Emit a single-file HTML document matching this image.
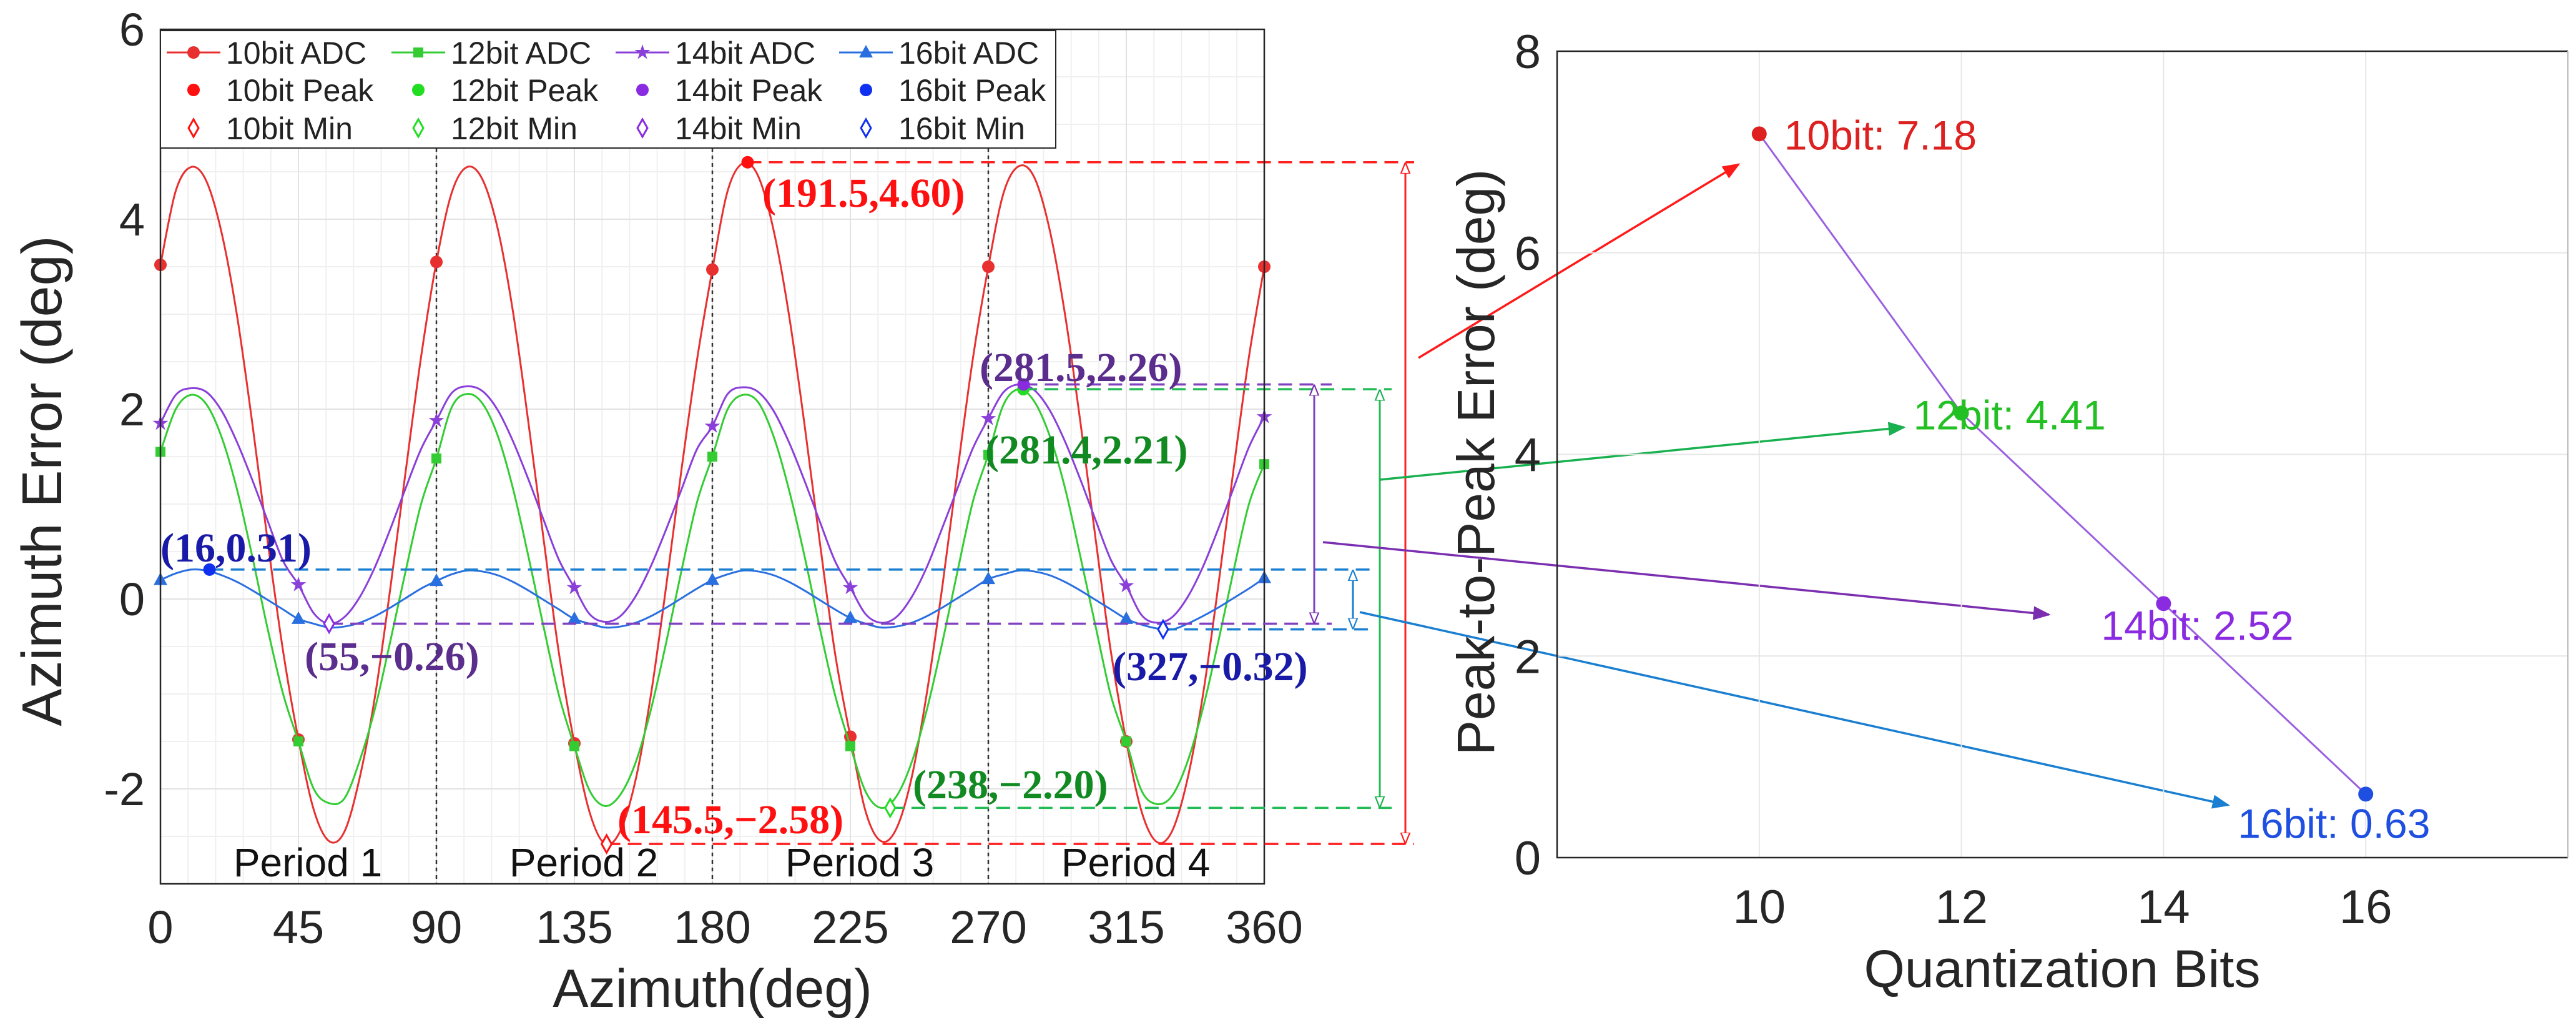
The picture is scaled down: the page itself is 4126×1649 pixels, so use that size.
<!DOCTYPE html>
<html><head><meta charset="utf-8"><style>
html,body{margin:0;padding:0;background:#fff;}
svg{display:block;font-family:"Liberation Sans",sans-serif;}
</style></head><body>
<svg id="c" width="4126" height="1649" viewBox="0 0 4126 1649" xmlns="http://www.w3.org/2000/svg">
<defs>
<marker id="ar-red" viewBox="0 0 10 10" refX="9" refY="5" markerWidth="8" markerHeight="8" orient="auto"><path d="M0,1 L10,5 L0,9 z" fill="#ff1a1a"/></marker>
<marker id="ar-green" viewBox="0 0 10 10" refX="9" refY="5" markerWidth="8" markerHeight="8" orient="auto"><path d="M0,1 L10,5 L0,9 z" fill="#19b050"/></marker>
<marker id="ar-purple" viewBox="0 0 10 10" refX="9" refY="5" markerWidth="8" markerHeight="8" orient="auto"><path d="M0,1 L10,5 L0,9 z" fill="#7b2fb0"/></marker>
<marker id="ar-blue" viewBox="0 0 10 10" refX="9" refY="5" markerWidth="8" markerHeight="8" orient="auto"><path d="M0,1 L10,5 L0,9 z" fill="#1a7fd0"/></marker>
<marker id="oh-red" viewBox="0 0 10 10" refX="9" refY="5" markerWidth="6" markerHeight="6" orient="auto-start-reverse"><path d="M0,1 L10,5 L0,9 z" fill="#fff" stroke="#ff1a1a" stroke-width="1.2"/></marker>
<marker id="oh-green" viewBox="0 0 10 10" refX="9" refY="5" markerWidth="6" markerHeight="6" orient="auto-start-reverse"><path d="M0,1 L10,5 L0,9 z" fill="#fff" stroke="#19b050" stroke-width="1.2"/></marker>
<marker id="oh-purple" viewBox="0 0 10 10" refX="9" refY="5" markerWidth="6" markerHeight="6" orient="auto-start-reverse"><path d="M0,1 L10,5 L0,9 z" fill="#fff" stroke="#7b2fb0" stroke-width="1.2"/></marker>
<marker id="oh-blue" viewBox="0 0 10 10" refX="9" refY="5" markerWidth="6" markerHeight="6" orient="auto-start-reverse"><path d="M0,1 L10,5 L0,9 z" fill="#fff" stroke="#1a7fd0" stroke-width="1.2"/></marker>
</defs>
</svg>
<script>
// ---- left chart data ----
const azimuthStep = 5;
const s10 = [3.52,4.30,4.55,4.40,3.85,2.98,1.84,0.60,-0.55,-1.48,-2.22,-2.55,-2.45,-1.88,-1.02,0.12,1.35,2.55,
 3.55,4.28,4.55,4.42,3.90,3.02,1.86,0.62,-0.58,-1.52,-2.25,-2.58,-2.44,-1.90,-1.00,0.15,1.38,2.52,
 3.47,4.30,4.59,4.45,3.88,2.99,1.85,0.61,-0.57,-1.45,-2.24,-2.55,-2.42,-1.88,-0.98,0.13,1.36,2.54,
 3.50,4.28,4.56,4.44,3.89,3.00,1.87,0.63,-0.56,-1.50,-2.24,-2.56,-2.44,-1.89,-1.01,0.14,1.37,2.55,3.50];
const s12 = [1.55,2.00,2.15,2.05,1.70,1.15,0.44,-0.32,-1.00,-1.50,-2.00,-2.15,-2.10,-1.70,-1.15,-0.44,0.30,1.00,
 1.48,2.02,2.16,2.06,1.72,1.16,0.45,-0.30,-1.02,-1.55,-2.02,-2.18,-2.06,-1.72,-1.16,-0.45,0.31,1.02,
 1.50,2.00,2.15,2.07,1.71,1.15,0.46,-0.30,-1.01,-1.55,-2.03,-2.20,-2.08,-1.72,-1.16,-0.46,0.30,1.03,
 1.52,2.05,2.21,2.08,1.72,1.17,0.45,-0.29,-1.02,-1.50,-2.02,-2.16,-2.07,-1.71,-1.15,-0.45,0.30,1.00,1.42];
const s14 = [1.85,2.15,2.22,2.18,1.98,1.65,1.25,0.82,0.40,0.15,-0.15,-0.26,-0.19,0.02,0.34,0.74,1.17,1.58,
 1.88,2.17,2.24,2.19,1.99,1.66,1.26,0.83,0.41,0.12,-0.16,-0.24,-0.18,0.03,0.35,0.74,1.16,1.58,
 1.82,2.16,2.23,2.18,1.98,1.65,1.25,0.82,0.40,0.12,-0.16,-0.25,-0.19,0.02,0.34,0.75,1.17,1.59,
 1.90,2.18,2.26,2.20,1.99,1.66,1.26,0.83,0.41,0.14,-0.17,-0.25,-0.19,0.02,0.34,0.74,1.17,1.60,1.92];
const s16 = [0.20,0.27,0.31,0.30,0.25,0.18,0.09,-0.01,-0.11,-0.21,-0.26,-0.30,-0.29,-0.25,-0.18,-0.09,0.01,0.11,
 0.19,0.26,0.30,0.29,0.25,0.18,0.09,-0.01,-0.11,-0.21,-0.26,-0.30,-0.29,-0.25,-0.18,-0.09,0.01,0.11,
 0.20,0.26,0.30,0.29,0.25,0.18,0.09,-0.01,-0.11,-0.20,-0.26,-0.30,-0.29,-0.25,-0.18,-0.09,0.01,0.11,
 0.21,0.26,0.30,0.29,0.25,0.18,0.09,-0.01,-0.11,-0.21,-0.27,-0.31,-0.32,-0.26,-0.18,-0.09,0.01,0.11,0.22];
const peakX = [191.5, 281.4, 281.5, 16];
const peakY = [4.60, 2.21, 2.26, 0.31];
const minX = [145.5, 238, 55, 327];
const minY = [-2.58, -2.20, -0.26, -0.32];
const xTicks = [0,45,90,135,180,225,270,315,360];
const yTicks = [-2,0,2,4,6];
const periodLabels = ["Period 1","Period 2","Period 3","Period 4"];
// ---- right chart data ----
const bits = [10,12,14,16];
const p2p = [7.18,4.41,2.52,0.63];
const bitTicks = [10,12,14,16];
const p2pTicks = [0,2,4,6,8];

const NS="http://www.w3.org/2000/svg";
const svg=document.getElementById('c');
function mk(tag,attrs,parent){const e=document.createElementNS(NS,tag);for(const k in attrs)e.setAttribute(k,attrs[k]);(parent||svg).appendChild(e);return e;}

const L={x0:257,x1:2025,y0:1415,y1:47,vmin:-3,vmax:6,amin:0,amax:360};
const xs=a=>L.x0+(a-L.amin)/(L.amax-L.amin)*(L.x1-L.x0);
const ys=v=>L.y0-(v-L.vmin)/(L.vmax-L.vmin)*(L.y0-L.y1);
const R={x0:2494,x1:4113,y0:1373,y1:82,bmin:8,bmax:18,vmin:0,vmax:8};
const rx=b=>R.x0+(b-R.bmin)/(R.bmax-R.bmin)*(R.x1-R.x0);
const ry=v=>R.y0-(v-R.vmin)/(R.vmax-R.vmin)*(R.y0-R.y1);

const gL=mk('g',{});


for(let a=0;a<=360;a+=9){const l=mk('line',{x1:xs(a),x2:xs(a),y1:L.y1,y2:L.y0,stroke:'#f0f0f0','stroke-width':2},gL);

}
for(let v=-3;v<=6;v+=0.5){const l=mk('line',{x1:L.x0,x2:L.x1,y1:ys(v),y2:ys(v),stroke:'#f0f0f0','stroke-width':2},gL);

}
xTicks.forEach(a=>{const l=mk('line',{x1:xs(a),x2:xs(a),y1:L.y1,y2:L.y0,stroke:'#e2e2e2','stroke-width':2},gL);


const t=mk('text',{x:xs(a),y:1510,'font-size':74,'text-anchor':'middle',fill:'#262626'},gL);t.textContent=a;

});
yTicks.forEach(v=>{const l=mk('line',{x1:L.x0,x2:L.x1,y1:ys(v),y2:ys(v),stroke:'#e2e2e2','stroke-width':2},gL);


const t=mk('text',{x:232,y:ys(v)+26,'font-size':74,'text-anchor':'end',fill:'#262626'},gL);t.textContent=v;

});
[90,180,270].forEach(a=>{const l=mk('line',{x1:xs(a),x2:xs(a),y1:ys(4.75),y2:L.y0,stroke:'#333','stroke-width':2.5,'stroke-dasharray':'6,6'},gL);

});
periodLabels.forEach((p,i)=>{const t=mk('text',{x:xs(45+90*i)+15,y:1403,'font-size':64,'text-anchor':'middle',fill:'#111'},gL);t.textContent=p;

});

function smooth(pts){let d='M'+pts[0][0]+','+pts[0][1];
for(let i=0;i<pts.length-1;i++){const p0=pts[Math.max(0,i-1)],p1=pts[i],p2=pts[i+1],p3=pts[Math.min(pts.length-1,i+2)];
d+=' C'+(p1[0]+(p2[0]-p0[0])/6)+','+(p1[1]+(p2[1]-p0[1])/6)+' '+(p2[0]-(p3[0]-p1[0])/6)+','+(p2[1]-(p3[1]-p1[1])/6)+' '+p2[0]+','+p2[1];}
return d;}
function marker(type,x,y,color,parent){
 let e;
 if(type==='circle')e=mk('circle',{cx:x,cy:y,r:10,fill:color},parent);
 else if(type==='square')e=mk('rect',{x:x-8,y:y-8,width:16,height:16,fill:color},parent);
 else if(type==='tri')e=mk('path',{d:`M${x},${y-12} L${x+11},${y+8} L${x-11},${y+8} z`,fill:color},parent);
 else if(type==='star'){let d='';for(let k=0;k<10;k++){const r=k%2?5:13,an=-Math.PI/2+k*Math.PI/5;d+=(k?'L':'M')+(x+r*Math.cos(an))+','+(y+r*Math.sin(an));}e=mk('path',{d:d+'z',fill:color},parent);}
 else if(type==='diamond')e=mk('path',{d:`M${x},${y-14} L${x+8},${y} L${x},${y+14} L${x-8},${y} z`,fill:'#fff',stroke:color,'stroke-width':3},parent);
 return e;}

const series=[{d:s10,c:'#e83030',m:'circle',n:'10bit'},{d:s12,c:'#33cc33',m:'square',n:'12bit'},{d:s14,c:'#8a3fd9',m:'star',n:'14bit'},{d:s16,c:'#2a6fe0',m:'tri',n:'16bit'}];
const peakCol=['#ff1010','#22dd22','#8a2be2','#1030f0'];
series.forEach((s,si)=>{
 const g=mk('g',{},gL);
 
 
 const pts=s.d.map((v,i)=>[xs(i*azimuthStep),ys(v)]);
 const p=mk('path',{d:smooth(pts),fill:'none',stroke:s.c,'stroke-width':3},g);
 
 
 s.d.forEach((v,i)=>{const a=i*azimuthStep;if(a%45===0){const m=marker(s.m,xs(a),ys(v),s.c,g);
 
 }});
});
const peakSeries=[0,1,2,3];
const dashCols=['#ff2020','#22bb55','#8040c0','#1a7fd0'];
const barX=[2251,2210,2105,2167];
const dashEnd=[2265,2229,2133,2203];
const ohNames=['red','green','purple','blue'];
peakSeries.forEach(i=>{
 const y1=ys(peakY[i]),y2=ys(minY[i]);
 const d1=mk('line',{x1:xs(peakX[i]),x2:dashEnd[i],y1:y1,y2:y1,stroke:dashCols[i],'stroke-width':3.5,'stroke-dasharray':'22,12'},gL);
 
 
 const d2=mk('line',{x1:xs(minX[i]),x2:dashEnd[i],y1:y2,y2:y2,stroke:dashCols[i],'stroke-width':3.5,'stroke-dasharray':'22,12'},svg);
 
 
 const b=mk('line',{x1:barX[i],x2:barX[i],y1:y2-2,y2:y1+2,stroke:dashCols[i],'stroke-width':3,'marker-start':`url(#oh-${ohNames[i]})`,'marker-end':`url(#oh-${ohNames[i]})`},svg);
 
 
 const pm=marker('circle',xs(peakX[i]),y1,peakCol[i],svg);
 
 
 const mm=marker('diamond',xs(minX[i]),y2,peakCol[i],svg);
 
 
});
const annos=[['(191.5,4.60)',1221,331,'#ff1010'],['(281.5,2.26)',1569,610,'#5b2d8c'],['(281.4,2.21)',1578,742,'#118a22'],['(16,0.31)',257,899,'#1a1aa8'],['(55,−0.26)',488,1073,'#5b2d8c'],['(327,−0.32)',1782,1089,'#1a1aa8'],['(238,−2.20)',1462,1278,'#118a22'],['(145.5,−2.58)',989,1334,'#ff1010']];
annos.forEach(a=>{const t=mk('text',{x:a[1],y:a[2],'font-size':66,'font-weight':'bold','font-family':'"Liberation Serif",serif',fill:a[3]});t.textContent=a[0];

});
const fr=mk('rect',{x:L.x0,y:L.y1,width:L.x1-L.x0,height:L.y0-L.y1,fill:'none',stroke:'#262626','stroke-width':2.5},gL);


const lg=mk('g',{});


const lb=mk('rect',{x:L.x0,y:49,width:1434,height:188,fill:'#fff',stroke:'#262626','stroke-width':2},lg);


const colX=[267,627,986,1344];
const rowY=[84,144,205];
series.forEach((s,i)=>{
 const ln=mk('line',{x1:colX[i],x2:colX[i]+86,y1:rowY[0],y2:rowY[0],stroke:s.c,'stroke-width':3},lg);
 
 
 marker(s.m,colX[i]+43,rowY[0],s.c,lg);
 marker('circle',colX[i]+43,rowY[1],peakCol[i],lg);
 marker('diamond',colX[i]+43,rowY[2],peakCol[i],lg);
 [s.n+' ADC',s.n+' Peak',s.n+' Min'].forEach((txt,r)=>{const t=mk('text',{x:colX[i]+95,y:rowY[r]+18,'font-size':50,fill:'#222'},lg);t.textContent=txt;
 
 });
});
const xt=mk('text',{x:1141,y:1612,'font-size':86,'text-anchor':'middle',fill:'#262626'});xt.textContent='Azimuth(deg)';


const yt=mk('text',{x:0,y:0,'font-size':90,'text-anchor':'middle',fill:'#262626',transform:'translate(98,770) rotate(-90)'});yt.textContent='Azimuth Error (deg)';



const arrows=[[2272,573,2785,263,'#ff1a1a','red'],[2210,768,3050,684,'#19b050','green'],[2119,868,3282,984,'#7b2fb0','purple'],[2178,980,3569,1289,'#1a7fd0','blue']];
arrows.forEach(a=>{const l=mk('line',{x1:a[0],y1:a[1],x2:a[2],y2:a[3],stroke:a[4],'stroke-width':3.5,'marker-end':`url(#ar-${a[5]})`});

});

const gR=mk('g',{});


bitTicks.forEach(b=>{const l=mk('line',{x1:rx(b),x2:rx(b),y1:R.y1,y2:R.y0,stroke:'#e6e6e6','stroke-width':2},gR);


const t=mk('text',{x:rx(b),y:1478,'font-size':76,'text-anchor':'middle',fill:'#262626'},gR);t.textContent=b;

});
p2pTicks.forEach(v=>{const l=mk('line',{x1:R.x0,x2:R.x1,y1:ry(v),y2:ry(v),stroke:'#e6e6e6','stroke-width':2},gR);


const t=mk('text',{x:2468,y:ry(v)+27,'font-size':76,'text-anchor':'end',fill:'#262626'},gR);t.textContent=v;

});
const rf=mk('path',{d:`M${R.x1},${R.y1} L${R.x0},${R.y1} L${R.x0},${R.y0} L${R.x1},${R.y0}`,fill:'none',stroke:'#262626','stroke-width':2.5},gR);


const rf2=mk('line',{x1:R.x1,x2:R.x1,y1:R.y1,y2:R.y0,stroke:'#bbb','stroke-width':2},gR);


const pl=mk('polyline',{points:bits.map((b,i)=>rx(b)+','+ry(p2p[i])).join(' '),fill:'none',stroke:'#9b5fe0','stroke-width':3},gR);


const pcol=['#dd2020','#22c022','#8a2be2','#1f4fe0'];
const labOff=[[40,25],[-77,26],[-100,58],[-205,70]];
bits.forEach((b,i)=>{const c=mk('circle',{cx:rx(b),cy:ry(p2p[i]),r:12,fill:pcol[i]},gR);


const t=mk('text',{x:rx(b)+labOff[i][0],y:ry(p2p[i])+labOff[i][1],'font-size':66,fill:pcol[i]},gR);t.textContent=b+'bit: '+p2p[i].toFixed(2);

});
const rxT=mk('text',{x:3303,y:1580,'font-size':84,'text-anchor':'middle',fill:'#262626'},gR);rxT.textContent='Quantization Bits';


const ryT=mk('text',{x:0,y:0,'font-size':84,'text-anchor':'middle',fill:'#262626',transform:'translate(2393,740) rotate(-90)'},gR);ryT.textContent='Peak-to-Peak Error (deg)';


</script>
</body></html>
